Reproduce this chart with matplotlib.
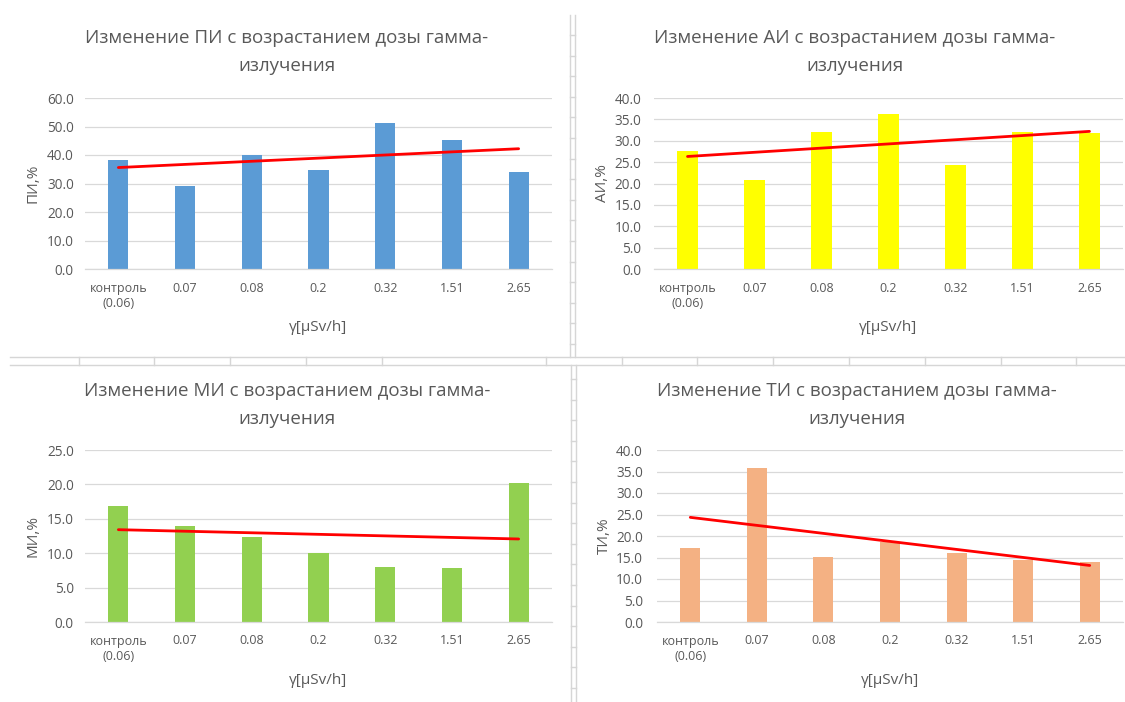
import numpy as np
import matplotlib
matplotlib.use("Agg")
from matplotlib import pyplot as plt
from matplotlib.lines import Line2D

plt.rcParams['font.family'] = ['Open Sans', 'DejaVu Sans']

########## data ###################
categories = ['контроль\n(0.06)', '0.07', '0.08', '0.2', '0.32', '1.51', '2.65']
x_label = 'γ[μSv/h]'

pi_values = [38.1, 29.2, 39.9, 34.8, 51.2, 45.1, 34.0]
ai_values = [27.5, 20.9, 32.0, 36.3, 24.3, 32.0, 31.8]
mi_values = [16.8, 14.0, 12.3, 10.0, 8.0, 7.9, 20.2]
ti_values = [17.3, 35.8, 15.2, 18.6, 16.0, 14.4, 13.9]

titles = ['Изменение ПИ с возрастанием дозы гамма-\nизлучения',
          'Изменение АИ с возрастанием дозы гамма-\nизлучения',
          'Изменение МИ с возрастанием дозы гамма-\nизлучения',
          'Изменение ТИ с возрастанием дозы гамма-\nизлучения']
y_labels = ['ПИ,%', 'АИ,%', 'МИ,%', 'ТИ,%']
y_limits = [(0, 60, 10), (0, 40, 5), (0, 25, 5), (0, 40, 5)]
###################################

W, H = 1125, 702
text_col = '#595959'
grid_col = '#D9D9D9'
sheet_col = '#D6D6D6'
bar_colors = ['#5B9BD5', '#FFFF00', '#92D050', '#F4B183']

fig = plt.figure(figsize=(W / 100, H / 100), dpi=100)
fig.patch.set_facecolor('white')

def px_line(xs, ys, **kw):
    # line given in pixel coords of the figure (origin top-left)
    fig.add_artist(Line2D([x / W for x in xs], [1 - y / H for y in ys],
                          transform=fig.transFigure, color=sheet_col, lw=1.0, **kw))

# spreadsheet cell borders visible between the charts
px_line([569.5, 569.5], [15, 357])
px_line([574.5, 574.5], [15, 357])
px_line([570.5, 570.5], [365, 702])
px_line([575.5, 575.5], [365, 702])
px_line([10, W], [357, 357])
px_line([10, W], [365, 365])
for xc in [79, 154, 230, 306, 382, 546, 622, 697, 773, 849, 925, 1001, 1076]:
    px_line([xc, xc], [357, 365])
for yc in np.arange(35, 350, 20.6):
    px_line([569.5, 574.5], [yc, yc])
for yc in np.arange(379, 700, 20.6):
    px_line([570.5, 575.5], [yc, yc])

# plot areas in pixels: left, right, top, bottom
boxes = [(85, 552, 98, 269), (654, 1123, 98, 269),
         (85, 552, 450, 622), (657, 1123, 450, 622)]
title_pos = [(287, 52), (855, 52), (287, 405), (857, 405)]
ylabel_x = [33, 603, 33, 604]      # centre of the rotated y label
xlabel_y = [327, 327, 681, 681]    # centre of the x label
ytick_pad = [8, 9, 8, 10]
series = [pi_values, ai_values, mi_values, ti_values]

xs = np.arange(len(categories))
for k in range(4):
    l, r, t, b = boxes[k]
    ax = fig.add_axes([l / W, 1 - b / H, (r - l) / W, (b - t) / H])
    vals = np.array(series[k])
    ax.bar(xs, vals, width=0.3, color=bar_colors[k], zorder=2)

    # linear trend line over the category index
    slope, icpt = np.polyfit(xs, vals, 1)
    ax.plot([xs[0], xs[-1]], [icpt + slope * xs[0], icpt + slope * xs[-1]],
            color='#FF0000', lw=2.0, zorder=3, solid_capstyle='round')

    y0, y1, step = y_limits[k]
    ticks = np.arange(y0, y1 + 0.01, step)
    ax.set_ylim(y0, y1)
    ax.set_xlim(-0.5, len(categories) - 0.5)
    ax.set_yticks(ticks)
    ax.set_yticklabels([f'{v:.1f}' for v in ticks])
    ax.set_xticks(xs)
    ax.set_xticklabels(categories)
    ax.grid(axis='y', color=grid_col, lw=0.9, zorder=0)
    ax.set_axisbelow(True)
    for s in ['top', 'right', 'left']:
        ax.spines[s].set_visible(False)
    ax.spines['bottom'].set_color(grid_col)
    ax.spines['bottom'].set_linewidth(0.9)
    ax.tick_params(axis='both', length=0, colors=text_col, labelsize=9.8)
    ax.tick_params(axis='x', labelsize=9.0, pad=9)
    ax.tick_params(axis='y', pad=ytick_pad[k])
    ax.set_facecolor('none')

    ax.set_ylabel(y_labels[k], color=text_col, fontsize=11, va='center')
    ax.yaxis.set_label_coords((ylabel_x[k] - l) / (r - l), 0.5)
    ax.set_xlabel(x_label, color=text_col, fontsize=11, va='center')
    ax.xaxis.set_label_coords(0.5, -(xlabel_y[k] - b) / (b - t))

    tx, ty = title_pos[k]
    fig.text(tx / W, 1 - ty / H, titles[k], ha='center', va='center',
             fontsize=13.5, color=text_col, linespacing=1.65)

fig.savefig('out.png', dpi=100, facecolor='white')
